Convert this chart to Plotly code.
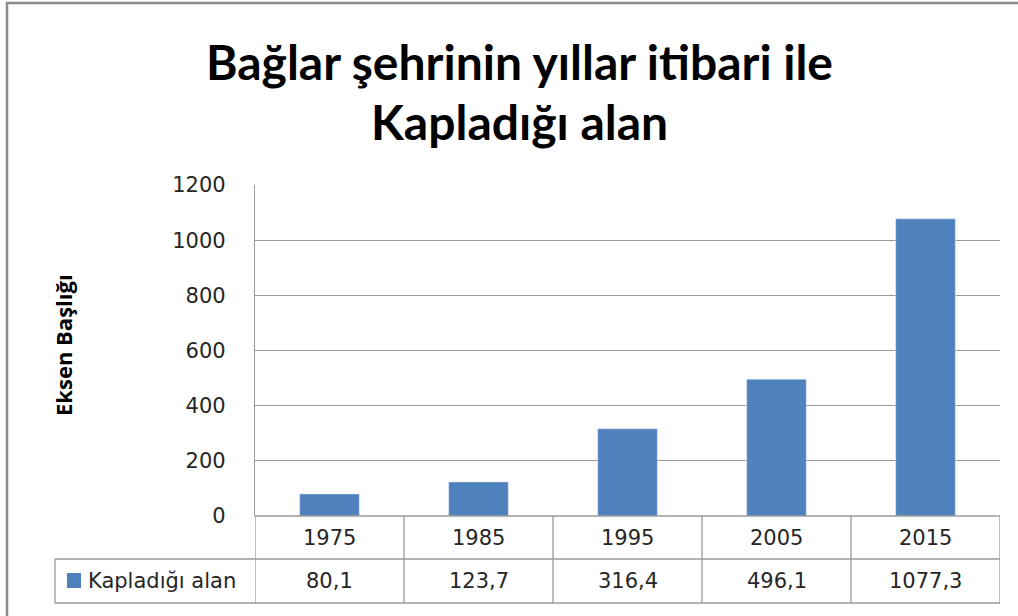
import plotly.graph_objects as go

years = ["1975", "1985", "1995", "2005", "2015"]
values = [80.1, 123.7, 316.4, 496.1, 1077.3]
series_name = "Kapladığı alan"
title_lines = ["Bağlar şehrinin yıllar itibari ile", "Kapladığı alan"]
y_title = "Eksen Başlığı"

W, H = 1018, 616
L, R, T, B = 255, 1000, 185, 516
BLUE = "#4F81BD"
GRID = "#9a9a9a"
FONT = "DejaVu Sans"
TXT = "#262626"

def px(x):
    return (x - L) / (R - L)

def py(y):
    return (B - y) / (B - T)

fig = go.Figure()
fig.add_trace(go.Bar(x=years, y=values, marker_color=BLUE, width=0.4, name=series_name,
                     showlegend=False, hoverinfo="x+y"))

shapes = []
annotations = []
row1_bot, row2_bot = 559, 603
tbl_left = 55
n = len(years)
LW = 1.3
shapes.append(dict(type="line", xref="paper", yref="paper", x0=px(L), x1=1, y0=py(B), y1=py(B),
                   line=dict(color=GRID, width=LW)))
for yy in (row1_bot, row2_bot):
    shapes.append(dict(type="line", xref="paper", yref="paper", x0=px(tbl_left), x1=1,
                       y0=py(yy), y1=py(yy), line=dict(color=GRID, width=LW)))
for i in range(n + 1):
    shapes.append(dict(type="line", xref="x", yref="paper", x0=i - 0.5, x1=i - 0.5,
                       y0=py(row2_bot), y1=py(B), line=dict(color=GRID, width=LW)))
shapes.append(dict(type="line", xref="paper", yref="paper", x0=px(tbl_left), x1=px(tbl_left),
                   y0=py(row2_bot), y1=py(row1_bot), line=dict(color=GRID, width=LW)))
shapes.append(dict(type="rect", xref="paper", yref="paper", x0=px(67), x1=px(81),
                   y0=py(588), y1=py(573), fillcolor=BLUE, line=dict(width=0)))
shapes.append(dict(type="rect", xref="paper", yref="paper", x0=px(7), x1=px(1040),
                   y0=py(660), y1=py(3), line=dict(color="#8c8c8c", width=2.5)))

def ann(x, y, text, size, family=FONT, color=TXT, xref="paper", xanchor="center", angle=0):
    annotations.append(dict(x=x, y=y, xref=xref, yref="paper", text=text, showarrow=False,
                            xanchor=xanchor, yanchor="middle", textangle=angle,
                            font=dict(family=family, size=size, color=color)))

for i, (yr, v) in enumerate(zip(years, values)):
    ann(i, py((B + row1_bot) / 2), yr, 21, xref="x")
    ann(i, py((row1_bot + row2_bot) / 2), f"{v:.1f}".replace(".", ","), 21, xref="x")
ann(px(86), py((row1_bot + row2_bot) / 2), series_name, 21, xanchor="left")
ann(px(63), py(345), f"<b>{y_title}</b>", 22, family="Open Sans", color="#000", angle=-90)
ann(px(519), py(61), f"<b>{title_lines[0]}</b>", 48, family="Lato", color="#000")
ann(px(519), py(121), f"<b>{title_lines[1]}</b>", 48, family="Lato", color="#000")

fig.update_layout(
    width=W, height=H,
    margin=dict(l=L, r=W - R, t=T, b=H - B),
    paper_bgcolor="white", plot_bgcolor="white",
    shapes=shapes, annotations=annotations,
    xaxis=dict(showticklabels=False, showgrid=False, zeroline=False, showline=False,
               range=[-0.5, n - 0.5]),
    yaxis=dict(range=[0, 1200], dtick=200, showgrid=True, gridcolor=GRID, gridwidth=LW,
               zeroline=False, showline=True, linecolor=GRID, linewidth=LW,
               ticks="", ticklabelstandoff=24,
               tickfont=dict(family=FONT, size=21, color=TXT)),
)

fig.write_html("out.html", config={"displayModeBar": False},
               post_script="document.body.style.margin='0';")
